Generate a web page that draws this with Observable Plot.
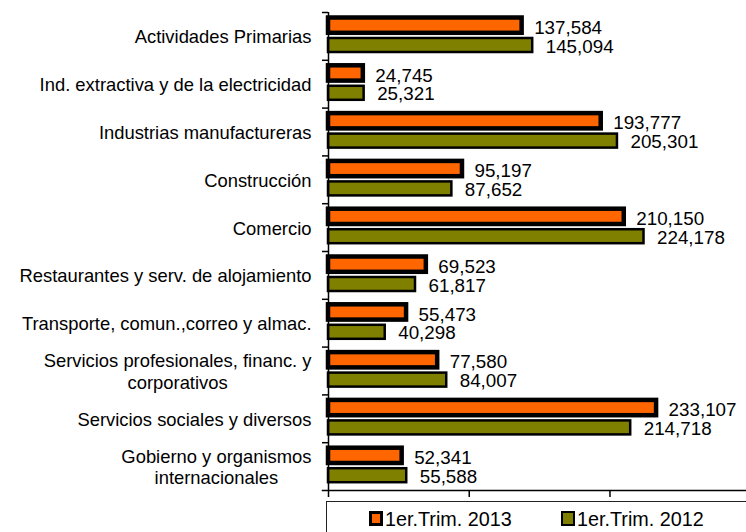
<!DOCTYPE html>
<html><head><meta charset="utf-8">
<script src="https://cdn.jsdelivr.net/npm/d3@7"></script>
<script src="https://cdn.jsdelivr.net/npm/@observablehq/plot@0.6"></script>
<style>
body{margin:0;background:#fff;font-family:Arial,"Liberation Sans",sans-serif;}
#wrap{position:relative;width:746px;height:532px;overflow:hidden;background:#fff;}
#legend{position:absolute;left:326px;top:501px;width:440px;height:40px;border:1px solid #222;box-sizing:border-box;}
.sw{position:absolute;top:9px;width:14px;height:15px;box-sizing:border-box;border:solid #000;}
.lt{position:absolute;top:6.8px;font-size:19.8px;line-height:20px;white-space:nowrap;color:#000;}
</style></head>
<body>
<div id="wrap"><div id="chart"></div><div id="legend"></div></div>
<script>
const categories = [
  "Actividades Primarias",
  "Ind. extractiva y de la electricidad",
  "Industrias manufactureras",
  "Construcción",
  "Comercio",
  "Restaurantes y serv. de alojamiento",
  "Transporte, comun.,correo y almac.",
  "Servicios profesionales, financ. y\ncorporativos",
  "Servicios sociales y diversos",
  "Gobierno y organismos\ninternacionales"
];
const values2013 = [137584, 24745, 193777, 95197, 210150, 69523, 55473, 77580, 233107, 52341];
const values2012 = [145094, 25321, 205301, 87652, 224178, 61817, 40298, 84007, 214718, 55588];
const seriesNames = ["1er.Trim. 2013", "1er.Trim. 2012"];
const seriesColors = ["#FF6600", "#808000"];
const xTicks = [0, 100000, 200000];
const xMax = 297000;

const W = 746, H = 500, mT = 12, mB = 10, mL = 328;
const step = (H - mT - mB) / categories.length;
const fmt = d3.format(",");
const d13 = categories.map((c, i) => ({cat: c, value: values2013[i]}));
const d12 = categories.map((c, i) => ({cat: c, value: values2012[i]}));

const chart = Plot.plot({
  width: W, height: H, marginTop: mT, marginBottom: mB, marginLeft: mL, marginRight: 0,
  style: {fontFamily: 'Arial, "Liberation Sans", sans-serif', background: "white", color: "black"},
  x: {domain: [0, xMax], label: null},
  y: {domain: categories, padding: 0, round: false, label: null},
  marks: [
    Plot.barX(d13, {x: "value", y: "cat", fill: seriesColors[0], stroke: "black", strokeWidth: 4.5, insetTop: 5.5, insetBottom: step - 20.8}),
    Plot.barX(d12, {x: "value", y: "cat", fill: seriesColors[1], stroke: "black", strokeWidth: 2.5, insetTop: 26, insetBottom: step - 40}),
    Plot.text(d13, {x: "value", y: "cat", text: d => fmt(d.value), dx: 12, dy: -8.7, textAnchor: "start", fontSize: 18.8, fill: "black"}),
    Plot.text(d12, {x: "value", y: "cat", text: d => fmt(d.value), dx: 13, dy: 10.2, textAnchor: "start", fontSize: 18.8, fill: "black"}),
    Plot.ruleX([0], {stroke: "black", strokeWidth: 1.5}),
    Plot.axisY({tickSize: 0, tickPadding: 17, fontSize: 18.4, lineHeight: 1.18, label: null, tickFormat: d => d}),
    Plot.axisY({tickSize: 6, tickFormat: () => "", label: null, dy: -step / 2, strokeWidth: 1.5}),
    Plot.axisX({ticks: xTicks, tickSize: 7, tickFormat: () => "", label: null, strokeWidth: 1.5}),
    Plot.frame({anchor: "bottom", insetLeft: -6, strokeWidth: 1.5, stroke: "black"})
  ]
});
document.getElementById("chart").appendChild(chart);

// center lines of multi-line category labels within their right-aligned block
chart.querySelectorAll('g[aria-label="y-axis tick label"] text').forEach(t => {
  const spans = t.querySelectorAll("tspan");
  if (spans.length > 1) {
    const ws = Array.from(spans, s => s.getComputedTextLength());
    const Wm = Math.max(...ws);
    spans.forEach((s, i) => s.setAttribute("dx", -(Wm - ws[i]) / 2));
  }
});

const legend = document.getElementById("legend");
const items = [
  {sw: 42, tx: 58, bw: 3},
  {sw: 234, tx: 250, bw: 2}
];
seriesNames.forEach((n, i) => {
  const s = document.createElement("div");
  s.className = "sw";
  s.style.left = items[i].sw + "px";
  s.style.background = seriesColors[i];
  s.style.borderWidth = items[i].bw + "px";
  legend.appendChild(s);
  const t = document.createElement("div");
  t.className = "lt";
  t.style.left = items[i].tx + "px";
  t.textContent = n;
  legend.appendChild(t);
});
</script>
</body></html>
